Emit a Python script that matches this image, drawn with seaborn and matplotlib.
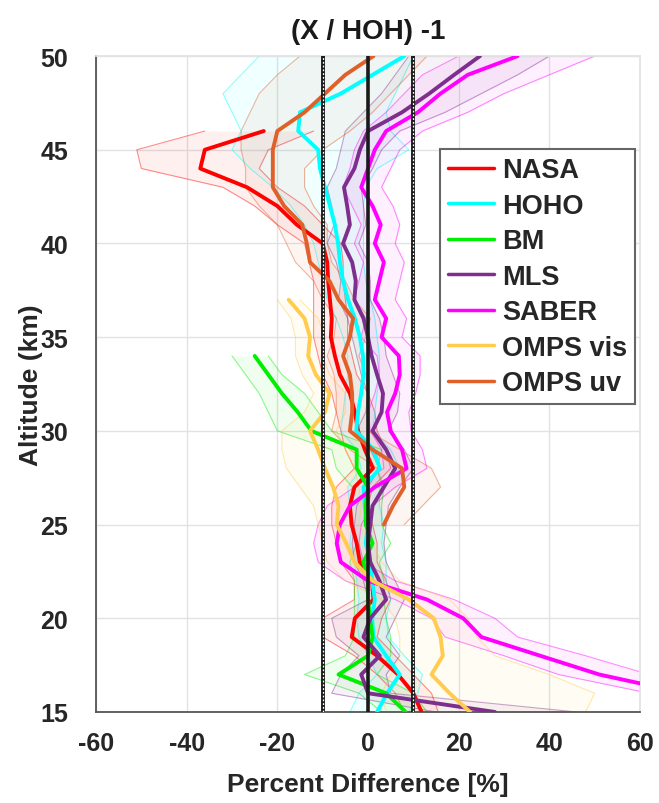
import numpy as np
import pandas as pd
import seaborn as sns
import matplotlib.pyplot as plt

nan = np.nan

# altitude grid, 15..50 km
altitude = np.arange(15, 51)

instruments = ['NASA', 'HOHO', 'BM', 'MLS', 'SABER', 'OMPS vis', 'OMPS uv']
colors = ['#ff0000', '#00ffff', '#00ee00', '#7e2f8e', '#ff00ff', '#ffcc4d', '#e0602a']

# values listed from 15 km up to 50 km
nasa_mean = [11.8, 10, 6.6, 2, -3.6, -2.9, 1.2, 0.9, -1.8, -2.5, -3.6, -4, -3, 1.1, -0.7, -2.2, -2.9, -4,
             -6.2, -7.3, -8.2, -8, -8.4, -8.8, -9, -10, -15.7, -20, -26.7, -37, -36, -23, nan, nan, nan, nan]
nasa_lo = [8, 6, 2, -3, -10, -10, -3, -3, -6, -7, -8, -8, -7, -3, -5, -6, -7, -8,
           -10, -11, -12, -12, -12, -12, -13, -14, -20, -25, -32, -50, -51, -36, nan, nan, nan, nan]
nasa_hi = [15.5, 14, 10, 6, 2, 3, 5, 4, 2, 2, 1, 0, 1, 5, 4, 2, 1.5, 0,
           -2.5, -3.5, -4.5, -4.5, -5, -5.5, -5.5, -6, -10, -14, -20, -24, -22, -12, nan, nan, nan, nan]

hoho_mean = [2, 4.2, 7, 4, 1.2, 0.9, 1.5, 0.9, 0.5, -0.5, 0, -0.7, -1, 2.6, 1.2, -2.6, -2.2, -1.5,
             -1, -1.1, -1.8, -2.9, -4.4, -5.5, -6.2, -6.6, -7.3, -8.4, -9.5, -10.6, -11, -15.4, -15, -6, 1, 8]
hoho_lo = [-4, -2, 2, 0, -2, -2.5, -2, -2.5, -3, -4, -3.5, -4, -4.5, -1.5, -2.5, -6, -5.5, -5,
           -4.5, -4.5, -5.5, -7, -9, -10, -11, -12, -14, -17, -21, -26, -30, -28, -30, -32, -28, -24]
hoho_hi = [9, 11, 12, 8, 4.5, 4, 5, 4, 4, 3, 3.5, 2.5, 2.5, 7, 5, 1, 1.5, 2,
           2.5, 2.5, 2, 1.5, 0.5, -0.5, -1, -1, -1, -1, -0.5, 2, 9, 5, 4, 6, 8, 10]

bm_mean = [8.3, 4, -6.5, 0, 1, 0.4, 0, 0, -1, 1, -0.5, -0.5, 0, -2.5, -2.5, -12.5, -15.5, -19,
           -22, -25, nan, nan, nan, nan, nan, nan, nan, nan, nan, nan, nan, nan, nan, nan, nan, nan]
bm_lo = [3, -2, -14, -5, -3, -3, -3, -3, -4, -2.5, -4, -4, -3.5, -7, -8, -20, -22, -24,
         -27, -30, nan, nan, nan, nan, nan, nan, nan, nan, nan, nan, nan, nan, nan, nan, nan, nan]
bm_hi = [13, 10, 2, 5, 5, 4, 3.5, 3.5, 2.5, 5, 3, 3, 3.5, 2, 3, -8, -11, -14,
         -19, -22, nan, nan, nan, nan, nan, nan, nan, nan, nan, nan, nan, nan, nan, nan, nan, nan]

mls_mean = [28, 0, -1.5, 2.6, -1, 0.5, 4, 2.5, 0.5, 0, 0.5, 1, 3.5, 6, 4, 1, 3, 3.3,
            2, 0.8, 0, -1, -3, -2.7, -3.5, -5.5, -4, -4.6, -5.3, -3, -1.8, 0, 7.5, 13.5, 19, 24.7]
mls_lo = [15, -8, -6, -2, -7, -8, 0, -1, -3, -3.5, -3, -2.5, 0, 2.5, 0.5, -2.5, -0.5, 0,
          -1.5, -2.5, -3.5, -4.5, -6.5, -6, -7, -9, -7.5, -8, -9, -7, -6, -5, -1, 3, 6, 9]
mls_hi = [46, 5, 4, 7, 4, 6, 8, 6, 4, 3.5, 4, 4.5, 7, 10, 8, 4.5, 6.5, 7,
          5.5, 4, 3.5, 2.5, 0.5, 0.5, 0, -2, -0.5, -1, -1.5, 1, 3, 7, 17, 25, 33, 40]

saber_mean = [85, 70, 51, 38, 25, 21, 13, 0, -6, -6.9, -6.2, -4, 1.5, 8.5, 7.5, 5, 4.2, 6,
              7, 6.8, 3, 4, 1.5, 2.5, 3.5, 1.5, 2.8, 1, -1.5, 0, 1.5, 4, 11, 16, 22, 33]
saber_lo = [75, 62, 42, 30, 17, 14, 6, -5, -11, -12, -11, -9, -3, 3.5, 3, 0.5, 0, 1.5,
            2.5, 2, -1.5, -0.5, -3, -2, -1, -3, -1.5, -3.5, -5.5, -4, -3, -1, 4, 8, 12, 20]
saber_hi = [95, 80, 62, 48, 33, 28, 19, 6, -1, -2, -1.5, 1, 6, 13, 12, 9.5, 9, 10.5,
            11.5, 11.5, 7.5, 8.5, 6, 7, 8, 6, 7, 5.5, 3, 5, 7, 12, 22, 30, 40, 50]

vis_mean = [22.5, 18, 14, 16.5, 16, 14.5, 9, 1, -3, -4.8, -6.9, -6.5, -7.7, -9.5, -11, -12.8, -9.5, -8.5,
            -11.5, -13.2, -12.8, -14, -17.5, nan, nan, nan, nan, nan, nan, nan, nan, nan, nan, nan, nan, nan]
vis_lo = [4, 3, 5, 7, 7, 6, 3, -5, -9, -10, -11, -12, -15, -18, -19, -19, -14, -12,
          -14.5, -16, -16, -17, -20, nan, nan, nan, nan, nan, nan, nan, nan, nan, nan, nan, nan, nan]
vis_hi = [48, 50, 40, 28, 24, 22, 18, 7, 3, 1, -2, -1.5, -2, -3, -5, -7, -5, -5,
          -8.5, -10, -9.5, -11, -15, nan, nan, nan, nan, nan, nan, nan, nan, nan, nan, nan, nan, nan]

uv_mean = [nan, nan, nan, nan, nan, nan, nan, nan, nan, nan, 3.5, 5.5, 8, 7.5, 1, -4, -3.5, -3.5,
           -4, -5.5, -4, -3.3, -6.5, -8.5, -12.8, -13.5, -14.5, -18.5, -21, -21, -21, -20, -14, -9.5, -5, 1.2]
uv_lo = [nan, nan, nan, nan, nan, nan, nan, nan, nan, nan, 0, 1, 3, 2, -4, -8, -7, -7,
         -7.5, -9, -7.5, -7, -10, -12, -16, -18, -20, -24, -27, -27, -28, -28, -26, -24, -20, -15]
uv_hi = [nan, nan, nan, nan, nan, nan, nan, nan, nan, nan, 8, 12, 16, 14, 7, 0, 0, 0,
         -0.5, -2, -0.5, 0.5, -3, -5, -8, -9, -9, -12, -14, -14, -10, -4, 1, 5, 9, 13]

means = [nasa_mean, hoho_mean, bm_mean, mls_mean, saber_mean, vis_mean, uv_mean]
lows = [nasa_lo, hoho_lo, bm_lo, mls_lo, saber_lo, vis_lo, uv_lo]
highs = [nasa_hi, hoho_hi, bm_hi, mls_hi, saber_hi, vis_hi, uv_hi]

rows = []
for name, m in zip(instruments, means):
    for a, v in zip(altitude, m):
        if not np.isnan(v):
            rows.append({'instrument': name, 'alt': a, 'diff': v})
df = pd.DataFrame(rows)

sns.set_theme(style='whitegrid')
plt.rcParams['font.family'] = ['Liberation Sans', 'DejaVu Sans']
plt.rcParams['font.weight'] = 'bold'
plt.rcParams['axes.unicode_minus'] = False

fig = plt.figure(figsize=(6.59, 8.04), dpi=100)
ax = fig.add_axes([0.1457, 0.1132, 0.8255, 0.8158])

# uncertainty bands
for name, col, lo, hi in zip(instruments, colors, lows, highs):
    lo = np.array(lo, dtype=float)
    hi = np.array(hi, dtype=float)
    ok = ~np.isnan(lo)
    ax.fill_betweenx(altitude[ok], lo[ok], hi[ok], color=col, alpha=0.06, lw=0, zorder=2)
    ax.plot(lo[ok], altitude[ok], color=col, lw=0.8, alpha=0.45, zorder=2)
    ax.plot(hi[ok], altitude[ok], color=col, lw=0.8, alpha=0.45, zorder=2)

sns.lineplot(data=df, x='diff', y='alt', hue='instrument', hue_order=instruments,
             palette=colors, orient='y', estimator=None, lw=2.8, ax=ax, zorder=3)

# reference lines
ax.axvline(0, color='k', lw=2.6, zorder=5)
for v in (-10, 10):
    ax.axvline(v, color='k', lw=2.8, zorder=5)
    ax.axvline(v, color='w', lw=0.9, ls=(0, (1.5, 1.5)), zorder=6)

ax.set_xlim(-60, 60)
ax.set_ylim(15, 50)
ax.set_xticks(np.arange(-60, 61, 20))
ax.set_yticks(np.arange(15, 51, 5))
ax.grid(True, color='#e2e2e2', lw=1)
ax.tick_params(direction='in', length=5, width=1.2, color='#444444', labelsize=18,
               labelcolor='#262626')
ax.tick_params(axis='x', pad=14)
ax.tick_params(axis='y', pad=20)
for lab in ax.get_xticklabels() + ax.get_yticklabels():
    lab.set_fontweight('bold')
for side in ('left', 'bottom'):
    ax.spines[side].set_color('#555555')
    ax.spines[side].set_linewidth(1.3)
for side in ('top', 'right'):
    ax.spines[side].set_color('#e2e2e2')

ax.set_title('(X / HOH) -1', fontsize=20, fontweight='bold', color='#1a1a1a', pad=13)
ax.set_xlabel('Percent Difference [%]', fontsize=19, fontweight='bold', color='#262626', labelpad=12)
ax.set_ylabel('Altitude (km)', fontsize=19, fontweight='bold', color='#262626', labelpad=-2)

leg = ax.legend(loc='upper right', bbox_to_anchor=(0.991, 0.858), borderaxespad=0,
                prop={'weight': 'bold', 'size': 19.5},
                handlelength=1.7, labelspacing=0.35, handletextpad=0.3, borderpad=0.3,
                frameon=True, fancybox=False, framealpha=1, edgecolor='#666666')
leg.get_frame().set_linewidth(1.5)
for h in leg.get_lines():
    h.set_linewidth(2.5)

plt.savefig('out.png', dpi=100)
